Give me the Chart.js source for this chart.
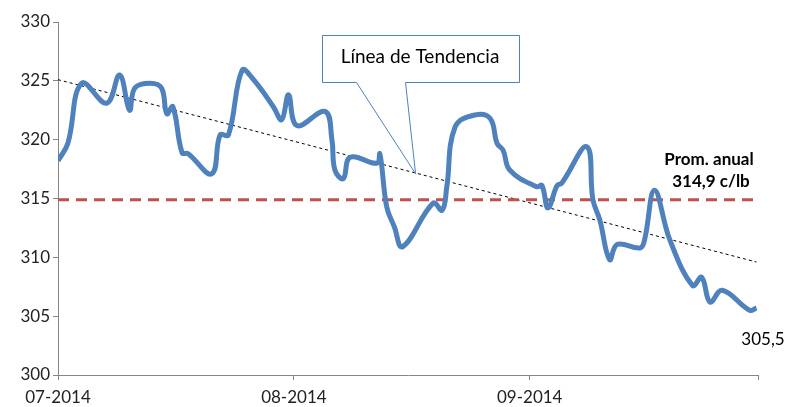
<!DOCTYPE html>
<html>
<head>
<meta charset="utf-8">
<script src="https://cdn.jsdelivr.net/npm/chart.js@4"></script>
<style>
  html, body { margin: 0; padding: 0; background: #fff; }
  #wrap { width: 788px; height: 407px; }
</style>
</head>
<body>
<div id="wrap"><canvas id="grafico"></canvas></div>
<script>
// days counted from 1 July 2014
const days = [0, 1.3, 3.1, 6.4, 8.1, 9.4, 10.1, 12.1, 13.6, 14.3, 15.1, 16.3, 17.1, 20.2, 21.3, 22.4,
  24.2, 25.7, 28.3, 29.4, 30.3, 31.4, 35.1, 36, 36.4, 37.5, 38.4, 41.9, 42.3, 43.2, 44.2, 45.3,
  49.3, 50.5, 51.1, 52.2, 54.8, 56.8, 57.7, 58.5, 59.4, 62.9, 63.6, 64.4, 65.6, 66.2, 69.5, 70.3,
  71.2, 72.5, 73.5, 76.5, 77.1, 78.4, 80.4, 83.4, 84.6, 85.7, 87.3, 90.9, 91.8];
const prices = [318.2, 319.7, 324.8, 323.1, 325.5, 322.5, 324.4, 324.8, 324.4, 322.2, 322.8, 318.9, 318.8, 317.1, 320.4, 320.4,
  325.9, 325.1, 322.8, 321.7, 323.8, 321.2, 322.4, 320, 317.4, 316.7, 318.5, 318, 318.8, 314.3, 312.6, 310.9,
  314.6, 314.0, 316, 321.1, 322.1, 321.8, 319.7, 319.1, 317.4, 316, 316.1, 314.2, 316.1, 316.3, 319.4, 314.9,
  313.2, 309.8, 311.1, 310.8, 311.5, 315.7, 311.5, 307.6, 308.3, 306.2, 307.2, 305.5, 305.7];

const trendDays = [0, 91.8];
const trendValues = [325.1, 309.6];
const promedio = 314.9;

const tickDays = [0, 31, 62, 92];
const tickLabels = ['07-2014', '08-2014', '09-2014', ''];

const fuente = 'Lato, "Open Sans", sans-serif';

const anotaciones = {
  id: 'anotaciones',
  afterDraw(chart) {
    const ctx = chart.ctx;
    const x = chart.scales.x, y = chart.scales.y;
    ctx.save();

    // callout "Línea de Tendencia"
    const tipX = x.getPixelForValue(47), tipY = y.getPixelForValue(317.1);
    ctx.beginPath();
    ctx.moveTo(322.5, 35.5);
    ctx.lineTo(519.5, 35.5);
    ctx.lineTo(519.5, 82.5);
    ctx.lineTo(405.5, 82.5);
    ctx.lineTo(tipX, tipY);
    ctx.lineTo(356.5, 82.5);
    ctx.lineTo(322.5, 82.5);
    ctx.closePath();
    ctx.fillStyle = '#ffffff';
    ctx.fill();
    ctx.strokeStyle = '#4F81BD';
    ctx.lineWidth = 1;
    ctx.stroke();

    ctx.fillStyle = '#000';
    ctx.textAlign = 'center';
    ctx.textBaseline = 'middle';
    ctx.font = '19px ' + fuente;
    ctx.fillText('Línea de Tendencia', 420, 57);

    ctx.font = 'bold 17px ' + fuente;
    ctx.fillText('Prom. anual', 709, 160);
    ctx.fillText('314,9 c/lb', 711, 182);

    ctx.font = '17px ' + fuente;
    ctx.fillText('305,5', 763, 340);
    ctx.restore();
  }
};

new Chart(document.getElementById('grafico'), {
  type: 'line',
  data: {
    datasets: [
      {
        data: days.map((d, i) => ({ x: d, y: prices[i] })),
        borderColor: '#4F81BD',
        borderWidth: 5,
        pointRadius: 0,
        tension: 0.4,
        fill: false,
        order: 0
      },
      {
        data: trendDays.map((d, i) => ({ x: d, y: trendValues[i] })),
        borderColor: '#000000',
        borderWidth: 1,
        borderDash: [3, 3],
        pointRadius: 0,
        order: 2
      },
      {
        data: [{ x: 0, y: promedio }, { x: 91.8, y: promedio }],
        borderColor: '#C0504D',
        borderWidth: 3,
        borderDash: [11, 7],
        pointRadius: 0,
        order: 1
      }
    ]
  },
  options: {
    responsive: true,
    maintainAspectRatio: false,
    animation: false,
    layout: { padding: { top: 22, right: 30, left: 0, bottom: 0 } },
    plugins: { legend: { display: false }, tooltip: { enabled: false } },
    scales: {
      x: {
        type: 'linear',
        min: 0,
        max: 92,
        afterBuildTicks: axis => { axis.ticks = tickDays.map(v => ({ value: v })); },
        afterFit: s => { s.height = 32; },
        ticks: {
          autoSkip: false,
          maxRotation: 0,
          color: '#222',
          font: { family: fuente, size: 17 },
          padding: 7,
          callback: v => tickLabels[tickDays.indexOf(v)]
        },
        grid: { drawOnChartArea: false, tickLength: 5, color: '#868686' },
        border: { color: '#868686', width: 1 }
      },
      y: {
        min: 300,
        max: 330,
        afterFit: s => { s.width = 58; },
        ticks: {
          stepSize: 5,
          color: '#222',
          font: { family: fuente, size: 17 },
          padding: 3
        },
        grid: { drawOnChartArea: false, tickLength: 5, color: '#868686' },
        border: { color: '#868686', width: 1 }
      }
    }
  },
  plugins: [anotaciones]
});
</script>
</body>
</html>
